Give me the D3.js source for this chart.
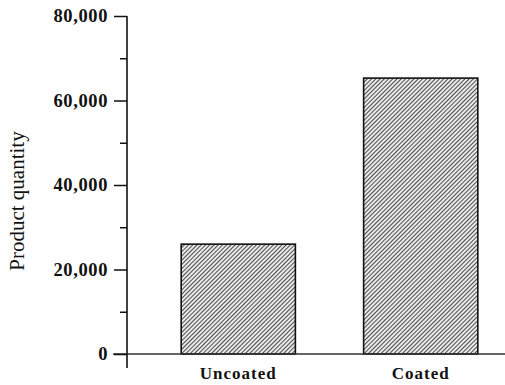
<!DOCTYPE html>
<html><head><meta charset="utf-8">
<script src="https://cdn.jsdelivr.net/npm/d3@7"></script>
<style>
html,body{margin:0;padding:0;background:#fff;}
text{font-family:"Liberation Serif","Times New Roman",serif;fill:#111;}
</style></head>
<body><svg id="c" width="505" height="385"></svg>
<script>
const categories = ["Uncoated", "Coated"];
const values = [26000, 65300];
const majorTicks = [0, 20000, 40000, 60000, 80000];
const minorTicks = [10000, 30000, 50000, 70000];
const yLabel = "Product quantity";

const svg = d3.select("#c");
const defs = svg.append("defs");
const pat = defs.append("pattern").attr("id","hatch").attr("patternUnits","userSpaceOnUse")
  .attr("width",3).attr("height",3).attr("patternTransform","rotate(45)");
pat.append("rect").attr("width",3).attr("height",3).attr("fill","#e8e8e8");
pat.append("line").attr("x1",0).attr("y1",0).attr("x2",0).attr("y2",3)
  .attr("stroke","#1a1a1a").attr("stroke-width",1.5);

const y = d3.scaleLinear().domain([0,80000]).range([354,16]);
const x = d3.scaleBand().domain(categories).range([127,532]).paddingInner(0.374).paddingOuter(0.297);

// bars
svg.selectAll("rect.bar").data(categories).enter().append("rect")
  .attr("class","bar")
  .attr("x",d=>x(d)).attr("width",x.bandwidth())
  .attr("y",(d,i)=>y(values[i])).attr("height",(d,i)=>y(0)-y(values[i]))
  .attr("fill","url(#hatch)").attr("stroke","#111").attr("stroke-width",1.6);

// x axis line
svg.append("line").attr("x1",113).attr("x2",505).attr("y1",y(0)).attr("y2",y(0))
  .attr("stroke","#333").attr("stroke-width",1.5);

// y axis
const yAxis = d3.axisLeft(y).tickValues(majorTicks).tickSize(13).tickPadding(6)
  .tickFormat(d3.format(","));
const gy = svg.append("g").attr("transform","translate(127,0)").call(yAxis);
gy.select(".domain").remove();
gy.selectAll(".tick line").attr("stroke","#111").attr("stroke-width",1.5);
gy.selectAll(".tick text").attr("font-size",18.5).attr("font-weight","bold")
  .style("letter-spacing","0.6px").attr("fill","#111")
  .attr("font-family","Liberation Serif, serif");
const gyMinor = svg.append("g").attr("transform","translate(127,0)")
  .call(d3.axisLeft(y).tickValues(minorTicks).tickSize(7).tickFormat(""));
gyMinor.select(".domain").remove();
gyMinor.selectAll(".tick line").attr("stroke","#111").attr("stroke-width",1.5);
svg.append("line").attr("x1",127).attr("x2",127).attr("y1",y(80000)).attr("y2",368)
  .attr("stroke","#111").attr("stroke-width",1.6);

// x labels
svg.selectAll("text.xl").data(categories).enter().append("text")
  .attr("class","xl")
  .attr("x",d=>x(d)+x.bandwidth()/2).attr("y",379)
  .attr("text-anchor","middle").attr("font-size",17).attr("font-weight","bold")
  .style("letter-spacing","1px").text(d=>d);

// y label
svg.append("text").attr("transform","translate(24,201) rotate(-90)")
  .attr("text-anchor","middle").attr("font-size",21).text(yLabel);
</script></body></html>
